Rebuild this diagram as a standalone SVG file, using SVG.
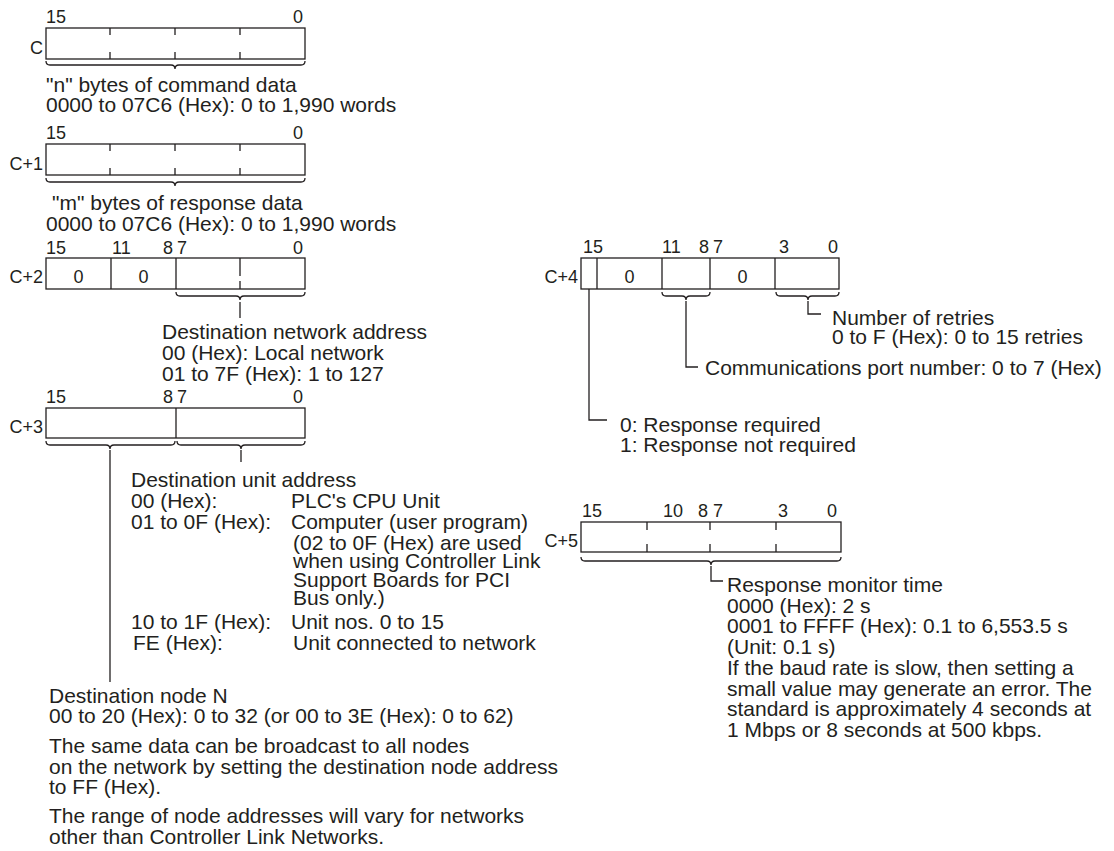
<svg xmlns="http://www.w3.org/2000/svg" width="1114" height="851" viewBox="0 0 1114 851">
<style>
text{font-family:"Liberation Sans",Arial,sans-serif;fill:#231f20}
.t{font-size:21px}
.b{font-size:18px}
.e{text-anchor:end}
.m{text-anchor:middle}
.box{fill:none;stroke:#231f20;stroke-width:1.3}
.ln{fill:none;stroke:#231f20;stroke-width:1.3}
</style>
<rect width="1114" height="851" fill="#fff"/>

<g id="word-C">
<text class="b" x="46" y="23">15</text><text class="b e" x="303" y="23">0</text>
<text class="b e" x="43" y="54">C</text>
<rect class="box" x="46" y="28" width="259" height="31"/>
<path class="ln" d="M110,28v7M110,52v7M175,28v7M175,52v7M240,28v7M240,52v7"/>
<path class="ln" d="M46,61Q46,65 50,65H171Q175,65 175,69Q175,65 179,65H301Q305,65 305,61"/>
<text class="t" x="46" y="92">"n" bytes of command data</text>
<text class="t" x="46" y="112">0000 to 07C6 (Hex): 0 to 1,990 words</text>
</g>

<g id="word-C1">
<text class="b" x="46" y="139">15</text><text class="b e" x="303" y="139">0</text>
<text class="b e" x="43" y="170">C+1</text>
<rect class="box" x="46" y="144" width="259" height="31"/>
<path class="ln" d="M110,144v7M110,168v7M175,144v7M175,168v7M240,144v7M240,168v7"/>
<path class="ln" d="M46,178Q46,182 50,182H171Q175,182 175,186Q175,182 179,182H301Q305,182 305,178"/>
<text class="t" x="52" y="210">"m" bytes of response data</text>
<text class="t" x="46" y="231">0000 to 07C6 (Hex): 0 to 1,990 words</text>
</g>

<g id="word-C2">
<text class="b" x="46" y="254">15</text><text class="b" x="112" y="254">11</text><text class="b" x="163" y="254">8</text><text class="b" x="177" y="254">7</text><text class="b e" x="303" y="254">0</text>
<text class="b e" x="43" y="283">C+2</text>
<rect class="box" x="46" y="258" width="259" height="31"/>
<path class="ln" d="M111,258V289M176,258V289M240,258V276M240,281V289"/>
<text class="b m" x="78.5" y="283">0</text><text class="b m" x="143.5" y="283">0</text>
<path class="ln" d="M176,292Q176,296 180,296H236Q240,296 240,300Q240,296 244,296H301Q305,296 305,292"/>
<text class="t" x="162" y="339">Destination network address</text>
<text class="t" x="162" y="360">00 (Hex): Local network</text>
<text class="t" x="162" y="381">01 to 7F (Hex): 1 to 127</text>
</g>

<g id="word-C3">
<text class="b" x="46" y="403">15</text><text class="b" x="163" y="403">8</text><text class="b" x="177" y="403">7</text><text class="b e" x="303" y="403">0</text>
<text class="b e" x="43" y="433">C+3</text>
<rect class="box" x="46" y="408" width="259" height="30"/>
<path class="ln" d="M176,408V438"/>
<path class="ln" d="M46,441Q46,445 50,445H106Q110,445 110,449Q110,445 114,445H171Q175,445 175,441"/>
<path class="ln" d="M177,441Q177,445 181,445H237Q241,445 241,449Q241,445 245,445H301Q305,445 305,441"/>
<text class="t" x="131" y="487">Destination unit address</text>
<text class="t" x="131" y="508">00 (Hex):</text><text class="t" x="291" y="508">PLC's CPU Unit</text>
<text class="t" x="131" y="529">01 to 0F (Hex):</text><text class="t" x="291" y="529">Computer (user program)</text>
<text class="t" x="293" y="550">(02 to 0F (Hex) are used</text>
<text class="t" x="293" y="568">when using Controller Link</text>
<text class="t" x="293" y="587">Support Boards for PCI</text>
<text class="t" x="293" y="605">Bus only.)</text>
<text class="t" x="131" y="629">10 to 1F (Hex):</text><text class="t" x="291" y="629">Unit nos. 0 to 15</text>
<text class="t" x="133" y="650">FE (Hex):</text><text class="t" x="293" y="650">Unit connected to network</text>
<text class="t" x="49" y="703">Destination node N</text>
<text class="t" x="49" y="723">00 to 20 (Hex): 0 to 32 (or 00 to 3E (Hex): 0 to 62)</text>
<text class="t" x="49" y="753">The same data can be broadcast to all nodes</text>
<text class="t" x="49" y="774">on the network by setting the destination node address</text>
<text class="t" x="49" y="794">to FF (Hex).</text>
<text class="t" x="49" y="823">The range of node addresses will vary for networks</text>
<text class="t" x="49" y="844">other than Controller Link Networks.</text>
</g>

<g id="word-C4">
<text class="b" x="583" y="253">15</text><text class="b" x="662" y="253">11</text><text class="b" x="699" y="253">8</text><text class="b" x="713" y="253">7</text><text class="b" x="779" y="253">3</text><text class="b e" x="838" y="253">0</text>
<text class="b e" x="578" y="283">C+4</text>
<rect class="box" x="581" y="258" width="258" height="31"/>
<path class="ln" d="M597,258V289M662,258V289M710,258V289M775,258V289"/>
<text class="b m" x="629.5" y="283">0</text><text class="b m" x="742.5" y="283">0</text>
<path class="ln" d="M662,292Q662,296 666,296H682Q686,296 686,300Q686,296 690,296H706Q710,296 710,292"/>
<path class="ln" d="M776,292Q776,296 780,296H804Q808,296 808,300Q808,296 812,296H835Q839,296 839,292"/>
<text class="t" x="832" y="325">Number of retries</text>
<text class="t" x="832" y="344">0 to F (Hex): 0 to 15 retries</text>
<text class="t" x="705" y="375">Communications port number: 0 to 7 (Hex)</text>
<text class="t" x="620" y="432">0: Response required</text>
<text class="t" x="620" y="452">1: Response not required</text>
</g>

<g id="word-C5">
<text class="b" x="582" y="517">15</text><text class="b" x="663" y="517">10</text><text class="b" x="698" y="517">8</text><text class="b" x="713" y="517">7</text><text class="b" x="778" y="517">3</text><text class="b e" x="837" y="517">0</text>
<text class="b e" x="578" y="547">C+5</text>
<rect class="box" x="581" y="522" width="260" height="30"/>
<path class="ln" d="M647,522v8M647,544v8M710,522v8M710,544v8M776,522v8M776,544v8"/>
<path class="ln" d="M581,557Q581,561 585,561H707Q711,561 711,565Q711,561 715,561H837Q841,561 841,557"/>
<text class="t" x="727" y="592">Response monitor time</text>
<text class="t" x="727" y="613">0000 (Hex): 2 s</text>
<text class="t" x="727" y="633">0001 to FFFF (Hex): 0.1 to 6,553.5 s</text>
<text class="t" x="727" y="654">(Unit: 0.1 s)</text>
<text class="t" x="727" y="675">If the baud rate is slow, then setting a</text>
<text class="t" x="727" y="696">small value may generate an error. The</text>
<text class="t" x="727" y="716">standard is approximately 4 seconds at</text>
<text class="t" x="727" y="737">1 Mbps or 8 seconds at 500 kbps.</text>
</g>

<g id="connectors">
<path class="ln" d="M240,302V318"/>
<path class="ln" d="M110,450V682"/>
<path class="ln" d="M241,450V462"/>
<path class="ln" d="M589,289V420H607"/>
<path class="ln" d="M686,301V367H698"/>
<path class="ln" d="M808,301V314H821"/>
<path class="ln" d="M711,566V581H723"/>
</g>
</svg>
